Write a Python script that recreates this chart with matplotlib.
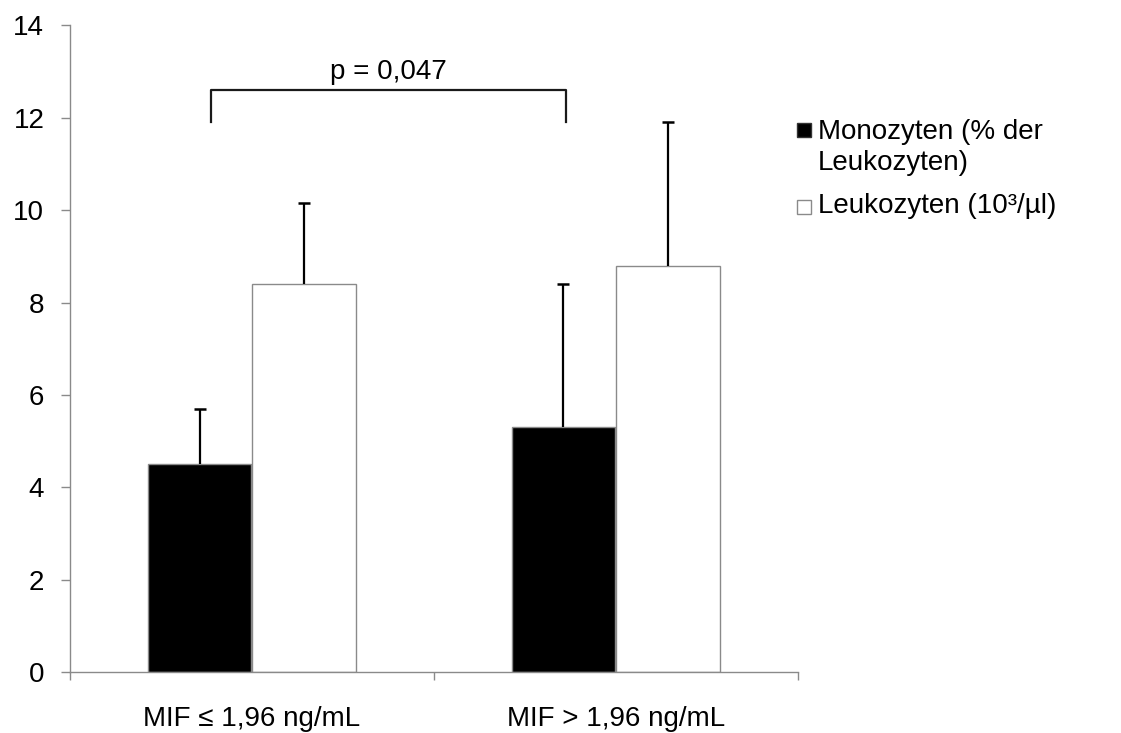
import matplotlib
matplotlib.use("Agg")
import matplotlib.pyplot as plt
import numpy as np
from matplotlib.patches import Rectangle

plt.rcParams['font.family'] = ['Liberation Sans', 'DejaVu Sans']

# --- data -------------------------------------------------------------
categories = ["MIF ≤ 1,96 ng/mL", "MIF > 1,96 ng/mL"]
series_labels = ["Monozyten (% der\nLeukozyten)", "Leukozyten (10³/µl)"]
monozyten_mean = [4.5, 5.3]
monozyten_sd = [1.2, 3.1]
leukozyten_mean = [8.4, 8.8]
leukozyten_sd = [1.75, 3.1]
yticks = [0, 2, 4, 6, 8, 10, 12, 14]
p_text = "p = 0,047"

# --- styling ----------------------------------------------------------
W, H = 1121, 733
GRAY = "#8a8a8a"
FS = 20
fig = plt.figure(figsize=(W / 100, H / 100), dpi=100)
ax = fig.add_axes([70 / W, 1 - 672.3 / H, (797.7 - 70) / W, (672.3 - 25.3) / H])

x = np.arange(len(categories))
bar_w = 0.285
offset = 0.144

series = [
    (monozyten_mean, monozyten_sd, "black", -offset),
    (leukozyten_mean, leukozyten_sd, "white", offset),
]
for mean, sd, color, off in series:
    mean = np.asarray(mean)
    sd = np.asarray(sd)
    xp = x + off
    ax.bar(xp, mean, bar_w, color=color, edgecolor=GRAY, linewidth=1.0, zorder=2)
    # upper error bar only, with a cap at the top
    ax.vlines(xp, mean, mean + sd, color="black", linewidth=1.6, zorder=3)
    ax.plot(xp, mean + sd, linestyle="none", marker="_", markersize=8,
            markeredgewidth=1.8, color="black", zorder=3)

# significance bracket between the two monocyte groups
br_left, br_right = -0.113, 0.863
br_top, br_bottom = 12.6, 11.9
ax.plot([br_left, br_left, br_right, br_right],
        [br_bottom, br_top, br_top, br_bottom],
        color="#1a1a1a", linewidth=1.6, clip_on=False, zorder=3)
ax.text((br_left + br_right) / 2, br_top + 0.1, p_text, ha="center",
        va="bottom", fontsize=FS, color="black")

# axes
ax.set_xlim(-0.5, len(categories) - 0.5)
ax.set_ylim(0, 14)
ax.set_yticks(yticks)
ax.set_yticklabels([str(t) for t in yticks])
ax.set_xticks(x)
ax.set_xticklabels(categories)
ax.set_xticks(np.arange(len(categories) + 1) - 0.5, minor=True)
for side in ("top", "right"):
    ax.spines[side].set_visible(False)
for side in ("left", "bottom"):
    ax.spines[side].set_color(GRAY)
    ax.spines[side].set_linewidth(1.0)
ax.tick_params(axis="y", direction="out", length=6.5, width=1.0, color=GRAY,
               pad=12, labelsize=FS)
ax.tick_params(axis="x", which="major", length=0, pad=24, labelsize=FS)
ax.tick_params(axis="x", which="minor", direction="out", length=6, width=1.0,
               color=GRAY)


# legend drawn in figure pixel space
def fx(px):
    return px / W


def fy(py):
    return 1 - py / H


legend_rows = [(129.5, [139.3, 170.3]), (207.0, [213.3])]
face_colors = ["black", "white"]
edge_colors = ["#333333", GRAY]
sq = 14
for (cy, baselines), label, fc, ec in zip(legend_rows, series_labels,
                                          face_colors, edge_colors):
    fig.patches.append(Rectangle((fx(797), fy(cy + sq / 2)), sq / W, sq / H,
                                 transform=fig.transFigure, facecolor=fc,
                                 edgecolor=ec, linewidth=1.0))
    for line, base in zip(label.split("\n"), baselines):
        fig.text(fx(818), fy(base), line, ha="left", va="baseline",
                 fontsize=FS, color="black")

fig.savefig("out.png", dpi=100)
